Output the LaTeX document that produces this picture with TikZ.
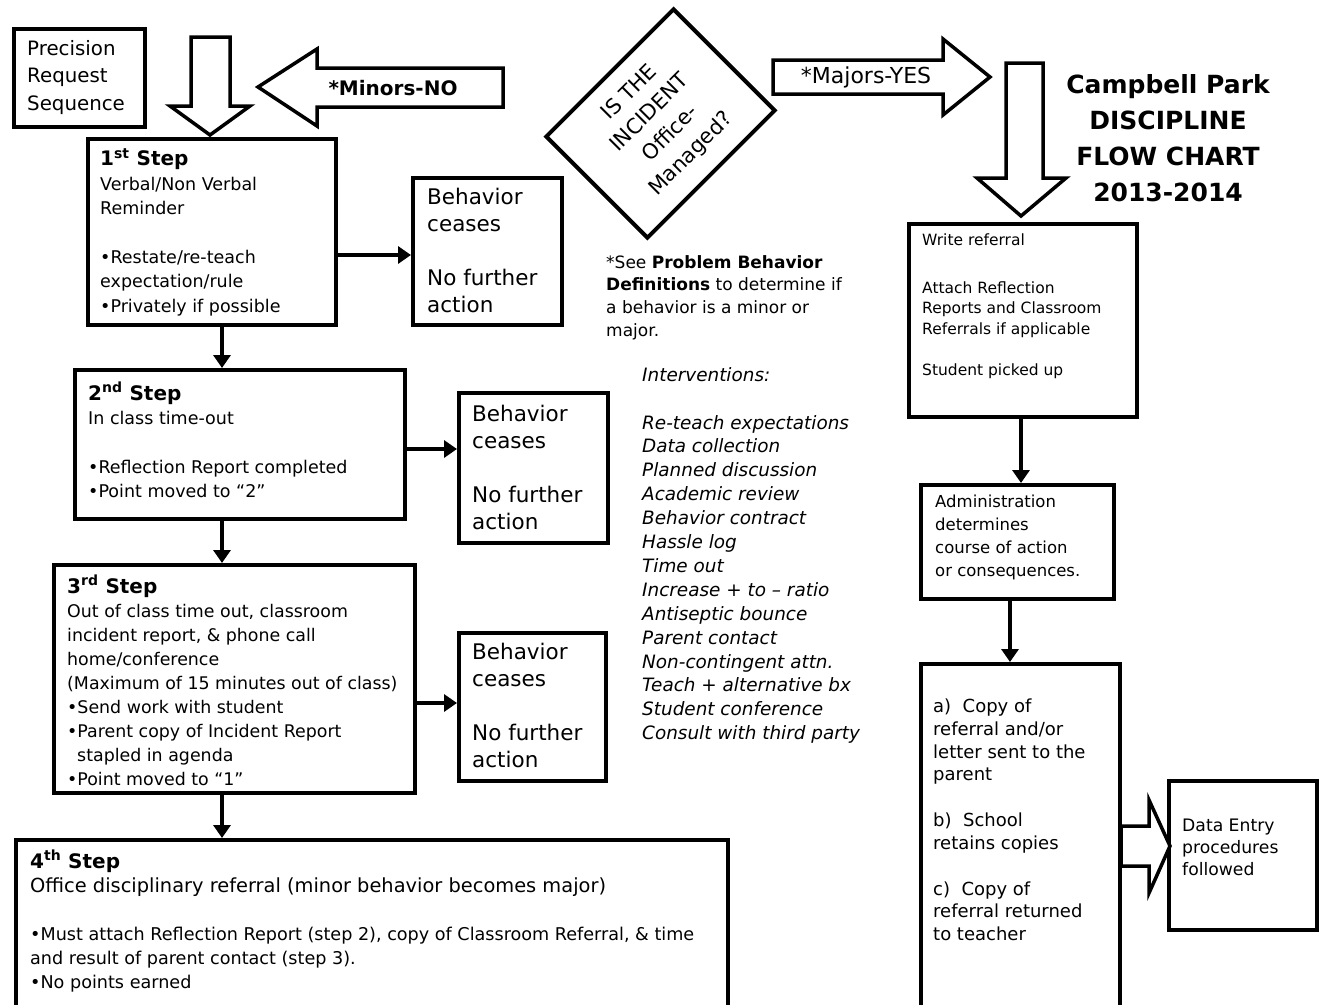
\documentclass[tikz,border=0pt]{standalone}
\usepackage{fontspec}
\setmainfont{DejaVu Sans}
\usetikzlibrary{arrows.meta,calc}
\newcommand{\myfs}[2]{\fontsize{#1}{#2}\selectfont}
\begin{document}
\begin{tikzpicture}[x=1pt,y=-1pt,
  box/.style={draw, line width=4pt, anchor=north west, inner sep=0pt},
  txt/.style={anchor=north west, align=left, inner sep=0pt},
  conn/.style={line width=4pt, -{Triangle[length=13pt,width=17pt]}},
  blk/.style={draw, line width=3.5pt, fill=white, line join=miter}]
\useasboundingbox (0,0) rectangle (1321,1004);
\clip (0,0) rectangle (1321,1004);

% ---------- boxes ----------
\node[box, minimum width=131pt, minimum height=98pt] (prs) at (12,27) {};
\node[box, minimum width=248pt, minimum height=186pt] (s1) at (86,137) {};
\node[box, minimum width=149pt, minimum height=147pt] (b1) at (411,176) {};
\node[box, minimum width=330pt, minimum height=149pt] (s2) at (73,368) {};
\node[box, minimum width=149pt, minimum height=150pt] (b2) at (457,391) {};
\node[box, minimum width=361pt, minimum height=228pt] (s3) at (52,563) {};
\node[box, minimum width=147pt, minimum height=148pt] (b3) at (457,631) {};
\node[box, minimum width=712pt, minimum height=200pt] (s4) at (14,838) {};
\node[box, minimum width=228pt, minimum height=193pt] (wr) at (907,222) {};
\node[box, minimum width=193pt, minimum height=114pt] (ad) at (919,483) {};
\node[box, minimum width=199pt, minimum height=360pt] (cp) at (919,662) {};
\node[box, minimum width=148pt, minimum height=149pt] (de) at (1167,779) {};

% ---------- texts ----------
\node[txt, font=\myfs{19.8}{27.5}] (tprs) at (27,40) {Precision\\Request\\Sequence};
\node[txt, font=\myfs{17.5}{24.5}] (ts1) at (100,148) {{\myfs{20}{24.5}\bfseries 1\textsuperscript{st} Step}\\Verbal/Non Verbal\\Reminder\\[24pt]•Restate/re-teach\\expectation/rule\\•Privately if possible};
\node[txt, font=\myfs{21.5}{27}] (tb1) at (427,188) {Behavior\\ceases\\[27pt]No further\\action};
\node[txt, font=\myfs{17.5}{24.5}] (ts2) at (88,382) {{\myfs{20}{24.5}\bfseries 2\textsuperscript{nd} Step}\\In class time-out\\[24pt]•Reflection Report completed\\•Point moved to “2”};
\node[txt, font=\myfs{21.5}{27}] (tb2) at (472,405) {Behavior\\ceases\\[27pt]No further\\action};
\node[txt, font=\myfs{17.4}{24}] (ts3) at (67,575) {{\myfs{20}{24}\bfseries 3\textsuperscript{rd} Step}\\Out of class time out, classroom\\incident report, \& phone call\\home/conference\\(Maximum of 15 minutes out of class)\\•Send work with student\\•Parent copy of Incident Report\\\hspace*{10pt}stapled in agenda\\•Point moved to “1”};
\node[txt, font=\myfs{21.5}{27}] (tb3) at (472,643) {Behavior\\ceases\\[27pt]No further\\action};
\node[txt, font=\myfs{19.4}{24}] (ts4) at (30,850) {{\myfs{20}{24}\bfseries 4\textsuperscript{th} Step}\\Office disciplinary referral (minor behavior becomes major)\\[24pt]{\myfs{17.6}{23}•Must attach Reflection Report (step 2), copy of Classroom Referral, \& time}\\{\myfs{17.6}{23}and result of parent contact (step 3).}\\{\myfs{17.6}{23}•No points earned}};

\node[txt, font=\myfs{17}{22.7}] (tnote) at (606,255) {*See \textbf{Problem Behavior}\\\textbf{Definitions} to determine if\\a behavior is a minor or\\major.};
\node[txt, font=\myfs{18.4}{23.9}\itshape] (tint) at (642,367) {Interventions:\\[24pt]Re-teach expectations\\Data collection\\Planned discussion\\Academic review\\Behavior contract\\Hassle log\\Time out\\Increase + to – ratio\\Antiseptic bounce\\Parent contact\\Non-contingent attn.\\Teach + alternative bx\\Student conference\\Consult with third party};

\node[txt, font=\myfs{15.5}{20.5}] (twr) at (922,234) {Write referral\\[27pt]Attach Reflection\\Reports and Classroom\\Referrals if applicable\\[21pt]Student picked up};
\node[txt, font=\myfs{16.5}{23}] (tad) at (935,495) {Administration\\determines\\course of action\\or consequences.};
\node[txt, font=\myfs{18}{22.7}] (tcp) at (933,699) {a)\ \ Copy of\\referral and/or\\letter sent to the\\parent\\[23pt]b)\ \ School\\retains copies\\[23pt]c)\ \ Copy of\\referral returned\\to teacher};
\node[txt, font=\myfs{17.2}{22}] (tde) at (1182,819) {Data Entry\\procedures\\followed};

\node[anchor=north, align=center, inner sep=0pt, font=\myfs{25}{36}\bfseries] (title) at (1168,74) {Campbell Park\\DISCIPLINE\\FLOW CHART\\2013-2014};

% ---------- decision ----------
\node[draw, line width=4pt, minimum width=180pt, minimum height=143pt, rotate=45, align=center, inner sep=0pt, font=\myfs{21}{29}] (dec) at (660.5,123.5) {IS THE\\INCIDENT\\Office-\\Managed?};

% ---------- block arrows ----------
\draw[blk] (191,37) -- (230,37) -- (230,106) -- (250,106) -- (210,135) -- (170,106) -- (191,106) -- cycle;
\draw[blk] (503,68) -- (317,68) -- (317,49) -- (258,87) -- (317,126) -- (317,107) -- (503,107) -- cycle;
\node[inner sep=0pt, font=\myfs{20}{22}\bfseries] (tmin) at (393,88) {*Minors-NO};
\draw[blk] (773,60) -- (943,60) -- (943,39) -- (990,77) -- (943,115) -- (943,94) -- (773,94) -- cycle;
\node[inner sep=0pt, font=\myfs{22}{24}] (tmaj) at (866,77) {*Majors-YES};
\draw[blk] (1006,63) -- (1043,63) -- (1043,178) -- (1066,178) -- (1021,216) -- (977,178) -- (1006,178) -- cycle;
\draw[blk] (1121,826) -- (1149,826) -- (1149,800) -- (1170,846) -- (1149,893) -- (1149,866) -- (1121,866) -- cycle;

% ---------- connectors ----------
\coordinate (xa) at (222,0);
\coordinate (xb) at (1021,0);
\coordinate (xc) at (1010,0);
\coordinate (ya) at (0,255);
\coordinate (yb) at (0,449);
\coordinate (yc) at (0,703);
\draw[conn] (s1.south -| xa) -- (s2.north -| xa);
\draw[conn] (s2.south -| xa) -- (s3.north -| xa);
\draw[conn] (s3.south -| xa) -- (s4.north -| xa);
\draw[conn] (s1.east |- ya) -- (b1.west |- ya);
\draw[conn] (s2.east |- yb) -- (b2.west |- yb);
\draw[conn] (s3.east |- yc) -- (b3.west |- yc);
\draw[conn] (wr.south -| xb) -- (ad.north -| xb);
\draw[conn] (ad.south -| xc) -- (cp.north -| xc);
\end{tikzpicture}
\end{document}
